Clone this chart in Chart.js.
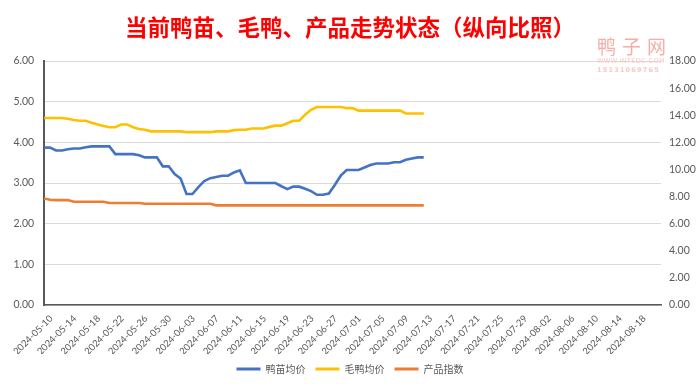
<!DOCTYPE html>
<html>
<head>
<meta charset="utf-8">
<script src="https://cdn.jsdelivr.net/npm/chart.js@4.4.1/dist/chart.umd.min.js"></script>
<style>
  html, body { margin: 0; padding: 0; background: #fff; }
  #wrap { position: relative; width: 700px; height: 386px; }
  #wm { position: absolute; left: 597px; top: 36px; pointer-events: none; font-family: "Noto Sans CJK SC", sans-serif; color: #f4aea6; }
  #wm .big { font-size: 19px; line-height: 20px; letter-spacing: 6px; font-weight: 400; }
  #wm .small { font-size: 6.5px; line-height: 9px; font-family: "DejaVu Sans", sans-serif; letter-spacing: 0.4px; color: #f8c8c4; }
</style>
</head>
<body>
<div id="wrap">
  <canvas id="chart" width="700" height="386"></canvas>
  <div id="wm">
    <div class="big">鸭子网</div>
    <div class="small" style="margin-top:1px">WWW.INTEDC.COM</div>
    <div class="small" style="font-weight:bold;letter-spacing:1.2px">15131069765</div>
  </div>
</div>
<script>
// 日期：2024-05-10 起逐日，至 2024-08-22（标签每 4 天一个，到 08-18）
const startDate = new Date(2024, 4, 10);
const dayCount = 105;
const lastLabelIndex = 100;
const dateLabels = [];
for (let i = 0; i < dayCount; i++) {
  const d = new Date(startDate.getFullYear(), startDate.getMonth(), startDate.getDate() + i);
  dateLabels.push(d.getFullYear() + '-' + String(d.getMonth() + 1).padStart(2, '0') + '-' + String(d.getDate()).padStart(2, '0'));
}

// 鸭苗均价（左轴）
const duckling = [
  3.87, 3.87, 3.80, 3.80, 3.83, 3.85, 3.85, 3.88, 3.90, 3.90,
  3.90, 3.90, 3.71, 3.71, 3.71, 3.71, 3.68, 3.63, 3.63, 3.63,
  3.41, 3.41, 3.22, 3.11, 2.73, 2.73, 2.90, 3.05, 3.12, 3.15,
  3.18, 3.18, 3.26, 3.31, 3.00, 3.00, 3.00, 3.00, 3.00, 3.00,
  2.92, 2.85, 2.91, 2.91, 2.86, 2.80, 2.71, 2.71, 2.74, 2.95,
  3.18, 3.32, 3.32, 3.32, 3.38, 3.44, 3.48, 3.48, 3.48, 3.51,
  3.51, 3.57, 3.60, 3.63, 3.63
];

// 毛鸭均价（左轴）
const liveDuck = [
  4.60, 4.60, 4.60, 4.60, 4.58, 4.55, 4.53, 4.53, 4.48, 4.44,
  4.40, 4.37, 4.37, 4.44, 4.44, 4.37, 4.33, 4.31, 4.27, 4.27,
  4.27, 4.27, 4.27, 4.27, 4.25, 4.25, 4.25, 4.25, 4.25, 4.27,
  4.27, 4.27, 4.30, 4.31, 4.31, 4.34, 4.34, 4.34, 4.38, 4.41,
  4.41, 4.47, 4.53, 4.53, 4.68, 4.80, 4.87, 4.87, 4.87, 4.87,
  4.87, 4.84, 4.84, 4.78, 4.78, 4.78, 4.78, 4.78, 4.78, 4.78,
  4.78, 4.71, 4.71, 4.71, 4.71
];

// 产品指数（右轴）
const productIndex = [
  7.86, 7.77, 7.74, 7.74, 7.74, 7.62, 7.62, 7.62, 7.62, 7.62,
  7.62, 7.53, 7.53, 7.53, 7.53, 7.53, 7.53, 7.47, 7.47, 7.47,
  7.47, 7.47, 7.47, 7.47, 7.47, 7.47, 7.47, 7.47, 7.47, 7.35,
  7.35, 7.35, 7.35, 7.35, 7.35, 7.35, 7.35, 7.35, 7.35, 7.35,
  7.35, 7.35, 7.35, 7.35, 7.35, 7.35, 7.35, 7.35, 7.35, 7.35,
  7.35, 7.35, 7.35, 7.35, 7.35, 7.35, 7.35, 7.35, 7.35, 7.35,
  7.35, 7.35, 7.35, 7.35, 7.35
];

const seriesNames = ['鸭苗均价', '毛鸭均价', '产品指数'];
const leftTicks = { min: 0, max: 6, step: 1 };
const rightTicks = { min: 0, max: 18, step: 2 };

const tickFont = { family: 'Lato, "Noto Sans", sans-serif', size: 10.5 };
const grey = '#595959';

function lineSet(label, data, color, axis) {
  return {
    label: label,
    data: data,
    borderColor: color,
    backgroundColor: color,
    borderWidth: 2.6,
    pointRadius: 0,
    tension: 0,
    yAxisID: axis
  };
}

new Chart(document.getElementById('chart').getContext('2d'), {
  type: 'line',
  data: {
    labels: dateLabels,
    datasets: [
      lineSet(seriesNames[0], duckling, '#4472C4', 'y'),
      lineSet(seriesNames[1], liveDuck, '#FFC000', 'y'),
      lineSet(seriesNames[2], productIndex, '#ED7D31', 'y1')
    ]
  },
  options: {
    responsive: false,
    animation: false,
    layout: { padding: { top: 0, bottom: 2, left: 0, right: 0 } },
    plugins: {
      title: {
        display: true,
        text: '当前鸭苗、毛鸭、产品走势状态（纵向比照）',
        color: '#FF0000',
        font: { family: '"Noto Sans CJK SC", sans-serif', size: 22.5, weight: 'bold' },
        padding: { top: 14, bottom: 20 }
      },
      legend: {
        position: 'bottom',
        labels: {
          color: grey,
          font: { family: '"Noto Sans CJK SC", sans-serif', size: 10 },
          boxWidth: 24,
          boxHeight: 3,
          padding: 10,
          generateLabels: function (chart) {
            return chart.data.datasets.map(function (ds, i) {
              return {
                text: ds.label,
                fillStyle: ds.borderColor,
                strokeStyle: ds.borderColor,
                lineWidth: 0,
                fontColor: grey,
                datasetIndex: i
              };
            });
          }
        }
      },
      tooltip: { enabled: false }
    },
    scales: {
      x: {
        grid: { display: false, drawTicks: false },
        border: { display: true, color: grey, width: 1.5 },
        ticks: {
          autoSkip: false,
          maxRotation: 45,
          minRotation: 45,
          color: grey,
          font: { family: tickFont.family, size: 9.5 },
          padding: 8,
          labelOffset: 7,
          callback: function (v, i) {
            return (i % 4 === 0 && i <= lastLabelIndex) ? this.getLabelForValue(v) : '';
          }
        },
        afterFit: function (s) { s.height = 49; }
      },
      y: {
        position: 'left',
        min: leftTicks.min,
        max: leftTicks.max,
        grid: { color: '#d9d9d9', drawTicks: false },
        border: { display: true, color: grey, width: 2 },
        ticks: {
          stepSize: leftTicks.step,
          color: grey,
          font: tickFont,
          padding: 10,
          callback: function (v) { return v.toFixed(2); }
        },
        afterFit: function (s) { s.width = 39; }
      },
      y1: {
        position: 'right',
        min: rightTicks.min,
        max: rightTicks.max,
        grid: { display: false, drawTicks: false },
        border: { display: false },
        ticks: {
          stepSize: rightTicks.step,
          color: grey,
          font: tickFont,
          padding: 8,
          callback: function (v) { return v.toFixed(2); }
        },
        afterFit: function (s) { s.width = 39; }
      }
    }
  }
});
</script>
</body>
</html>
